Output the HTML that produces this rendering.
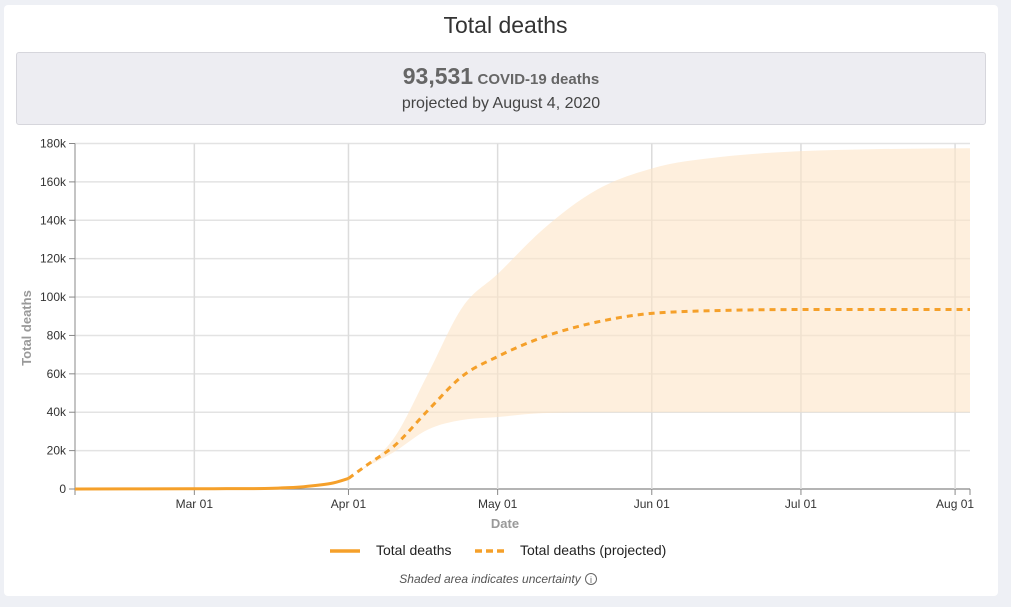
<!DOCTYPE html>
<html><head><meta charset="utf-8"><style>
body{margin:0;width:1011px;height:607px;background:#eef0f5;font-family:"Liberation Sans",sans-serif;overflow:hidden;position:relative}
.card{position:absolute;left:4px;top:5px;width:994px;height:591px;background:#fff;border-radius:4px}
.title{position:absolute;left:0;width:1011px;top:12px;text-align:center;font-size:23px;color:#333}
.summary{position:absolute;left:16px;top:52px;width:968px;height:71px;background:#ededf2;border:1px solid #d6d6dc;border-radius:3px;text-align:center;color:#666}
.big{position:absolute;top:10px;width:100%;font-weight:bold}
.sub{position:absolute;top:42px;width:100%;font-size:16px;color:#444}
</style></head><body>
<div class="card"></div>
<div class="title">Total deaths</div>
<div class="summary">
<div class="big"><span style="font-size:23px">93,531</span> <span style="font-size:15px">COVID-19 deaths</span></div>
<div class="sub">projected by August 4, 2020</div>
</div>
<svg id="chart" width="1011" height="607" style="position:absolute;left:0;top:0"></svg>
<script>
const yTicks=[0,20000,40000,60000,80000,100000,120000,140000,160000,180000];
const yTickLabels=["0","20k","40k","60k","80k","100k","120k","140k","160k","180k"];
const xTickDates=["2020-03-01","2020-04-01","2020-05-01","2020-06-01","2020-07-01","2020-08-01"];
const xTickLabels=["Mar 01","Apr 01","May 01","Jun 01","Jul 01","Aug 01"];
const actualDates=["2020-02-06","2020-02-20","2020-03-05","2020-03-12","2020-03-17","2020-03-20","2020-03-23","2020-03-26","2020-03-29","2020-04-01"];
const actualValues=[0,50,150,200,400,700,1200,2000,3200,5500];
const projDates=["2020-04-01","2020-04-05","2020-04-10","2020-04-17","2020-04-24","2020-05-01","2020-05-10","2020-05-21","2020-06-01","2020-06-15","2020-07-01","2020-07-15","2020-08-04"];
const projValues=[5500,13000,22000,41000,59000,69000,79000,87000,91500,93000,93500,93500,93531];
const bandDates=["2020-04-01","2020-04-04","2020-04-10","2020-04-17","2020-04-24","2020-05-01","2020-05-10","2020-05-21","2020-06-01","2020-06-15","2020-07-01","2020-07-15","2020-08-04"];
const bandUpper=[5500,11000,26000,60000,95000,112000,135000,156000,167000,173000,176000,177000,177500];
const bandLower=[5500,10500,19000,31000,36000,37500,39500,40000,40000,40000,40000,40000,40000];

const NS="http://www.w3.org/2000/svg",svg=document.getElementById('chart');
const X0=75,X1=970,Y0=489,Y1=143.5;
const t0=Date.UTC(2020,1,6),t1=Date.UTC(2020,7,4);
const day=s=>{const p=s.split('-');return Date.UTC(+p[0],p[1]-1,+p[2]);};
const xs=s=>X0+(day(s)-t0)/(t1-t0)*(X1-X0);
const ys=v=>Y0-v/180000*(Y0-Y1);
function el(tag,attrs,parent){const e=document.createElementNS(NS,tag);for(const k in attrs)e.setAttribute(k,attrs[k]);(parent||svg).appendChild(e);return e;}
function mono(pts){
 const n=pts.length;if(n<2)return"";const h=[],m=[],t=[];
 for(let i=0;i<n-1;i++){h[i]=pts[i+1][0]-pts[i][0];m[i]=(pts[i+1][1]-pts[i][1])/h[i];}
 for(let i=1;i<n-1;i++){const p=(m[i-1]*h[i]+m[i]*h[i-1])/(h[i-1]+h[i]);
  t[i]=(Math.sign(m[i-1])+Math.sign(m[i]))*Math.min(Math.abs(m[i-1]),Math.abs(m[i]),0.5*Math.abs(p))||0;}
 t[0]=n>2?(3*m[0]-t[1])/2:m[0];t[n-1]=n>2?(3*m[n-2]-t[n-2])/2:m[0];
 if(Math.sign(t[0])!=Math.sign(m[0]))t[0]=0;if(Math.sign(t[n-1])!=Math.sign(m[n-2]))t[n-1]=0;
 let d="";for(let i=0;i<n-1;i++){const q=h[i]/3;d+=` C${pts[i][0]+q},${pts[i][1]+t[i]*q} ${pts[i+1][0]-q},${pts[i+1][1]-t[i+1]*q} ${pts[i+1][0]},${pts[i+1][1]}`;}
 return d;}
yTicks.forEach((v,i)=>{const y=ys(v);
 const g=el('line',{x1:X0,x2:X1,y1:y,y2:y,stroke:i==0?'#888':'#e3e3e3','stroke-width':i==0?1.2:1.5});
 
 el('line',{x1:X0-6,x2:X0,y1:y,y2:y,stroke:'#888'});
 const t=el('text',{x:X0-9,y:y+4,'text-anchor':'end','font-size':12,fill:'#333'});t.textContent=yTickLabels[i];
 });
xTickDates.forEach((d,i)=>{const x=xs(d);
 const g=el('line',{x1:x,x2:x,y1:Y1,y2:Y0,stroke:'#dcdcdc','stroke-width':1.5});
 
 el('line',{x1:x,x2:x,y1:Y0,y2:Y0+6,stroke:'#888'});
 const t=el('text',{x:x,y:Y0+19,'text-anchor':'middle','font-size':12,fill:'#333'});t.textContent=xTickLabels[i];
 });
el('line',{x1:X0,x2:X0,y1:Y1,y2:Y0+6,stroke:'#888'});
el('line',{x1:X1,x2:X1,y1:Y0,y2:Y0+6,stroke:'#888'});
const up=bandDates.map((d,i)=>[xs(d),ys(bandUpper[i])]);
const lo=bandDates.map((d,i)=>[xs(d),ys(bandLower[i])]).reverse();
const band=el('path',{d:`M${up[0][0]},${up[0][1]}`+mono(up)+` L${lo[0][0]},${lo[0][1]}`+mono(lo)+'Z',fill:'#fde5c6','fill-opacity':0.6});

const ap=actualDates.map((d,i)=>[xs(d),ys(actualValues[i])]);
const la=el('path',{d:`M${ap[0][0]},${ap[0][1]}`+mono(ap),fill:'none',stroke:'#f5a02a','stroke-width':3});

const pp=projDates.map((d,i)=>[xs(d),ys(projValues[i])]);
const lp=el('path',{d:`M${pp[0][0]},${pp[0][1]}`+mono(pp),fill:'none',stroke:'#f5a02a','stroke-width':3,'stroke-dasharray':'6 5'});

const yt=el('text',{x:0,y:0,transform:'translate(31,328) rotate(-90)','text-anchor':'middle','font-size':13,'font-weight':'bold',fill:'#999'});yt.textContent='Total deaths';

const xt=el('text',{x:505,y:528,'text-anchor':'middle','font-size':13,'font-weight':'bold',fill:'#999'});xt.textContent='Date';

const l1=el('g',{});
el('line',{x1:330,x2:360,y1:551,y2:551,stroke:'#f5a02a','stroke-width':3.5},l1);
el('text',{x:376,y:555,'font-size':14,fill:'#222'},l1).textContent='Total deaths';
const l2=el('g',{});
el('line',{x1:475,x2:505,y1:551,y2:551,stroke:'#f5a02a','stroke-width':3.5,'stroke-dasharray':'7 4'},l2);
el('text',{x:520,y:555,'font-size':14,fill:'#222'},l2).textContent='Total deaths (projected)';
const fn=el('text',{x:490,y:583,'text-anchor':'middle','font-size':12,'font-style':'italic',fill:'#555'});fn.textContent='Shaded area indicates uncertainty';

const ic=el('g',{});
el('circle',{cx:591,cy:579,r:5.5,fill:'none',stroke:'#666','stroke-width':1},ic);
el('text',{x:591,y:583,'text-anchor':'middle','font-size':9,fill:'#666'},ic).textContent='i';
</script>
</body></html>
